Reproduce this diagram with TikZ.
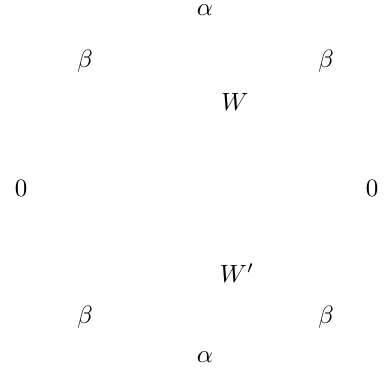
\documentclass[tikz,border=0pt]{standalone}
\usepackage{amsmath}
\usepackage{tikz}
\usetikzlibrary{positioning}

\begin{document}
\begin{tikzpicture}[x=0.4pt, y=-0.4pt,
  lbl/.style={inner sep=0pt, anchor=center}]
\useasboundingbox (0,0) rectangle (386,373);
% top half
\node[lbl] (atop) at (205,10) {$\alpha$};
\node[lbl] (btl) at (85,61) {$\beta$};
\node[lbl] (btr) at (326,61) {$\beta$};
\node[lbl] (w) at (235,102) {$W$};
% middle
\node[lbl] (zl) at (21,188) {$0$};
\node[lbl] (zr) at (372,188) {$0$};
% bottom half
\node[lbl] (wp) at (237,273) {$W'$};
\node[lbl] (bbl) at (85,317) {$\beta$};
\node[lbl] (bbr) at (326,317) {$\beta$};
\node[lbl] (abot) at (205,357) {$\alpha$};
\end{tikzpicture}
\end{document}
